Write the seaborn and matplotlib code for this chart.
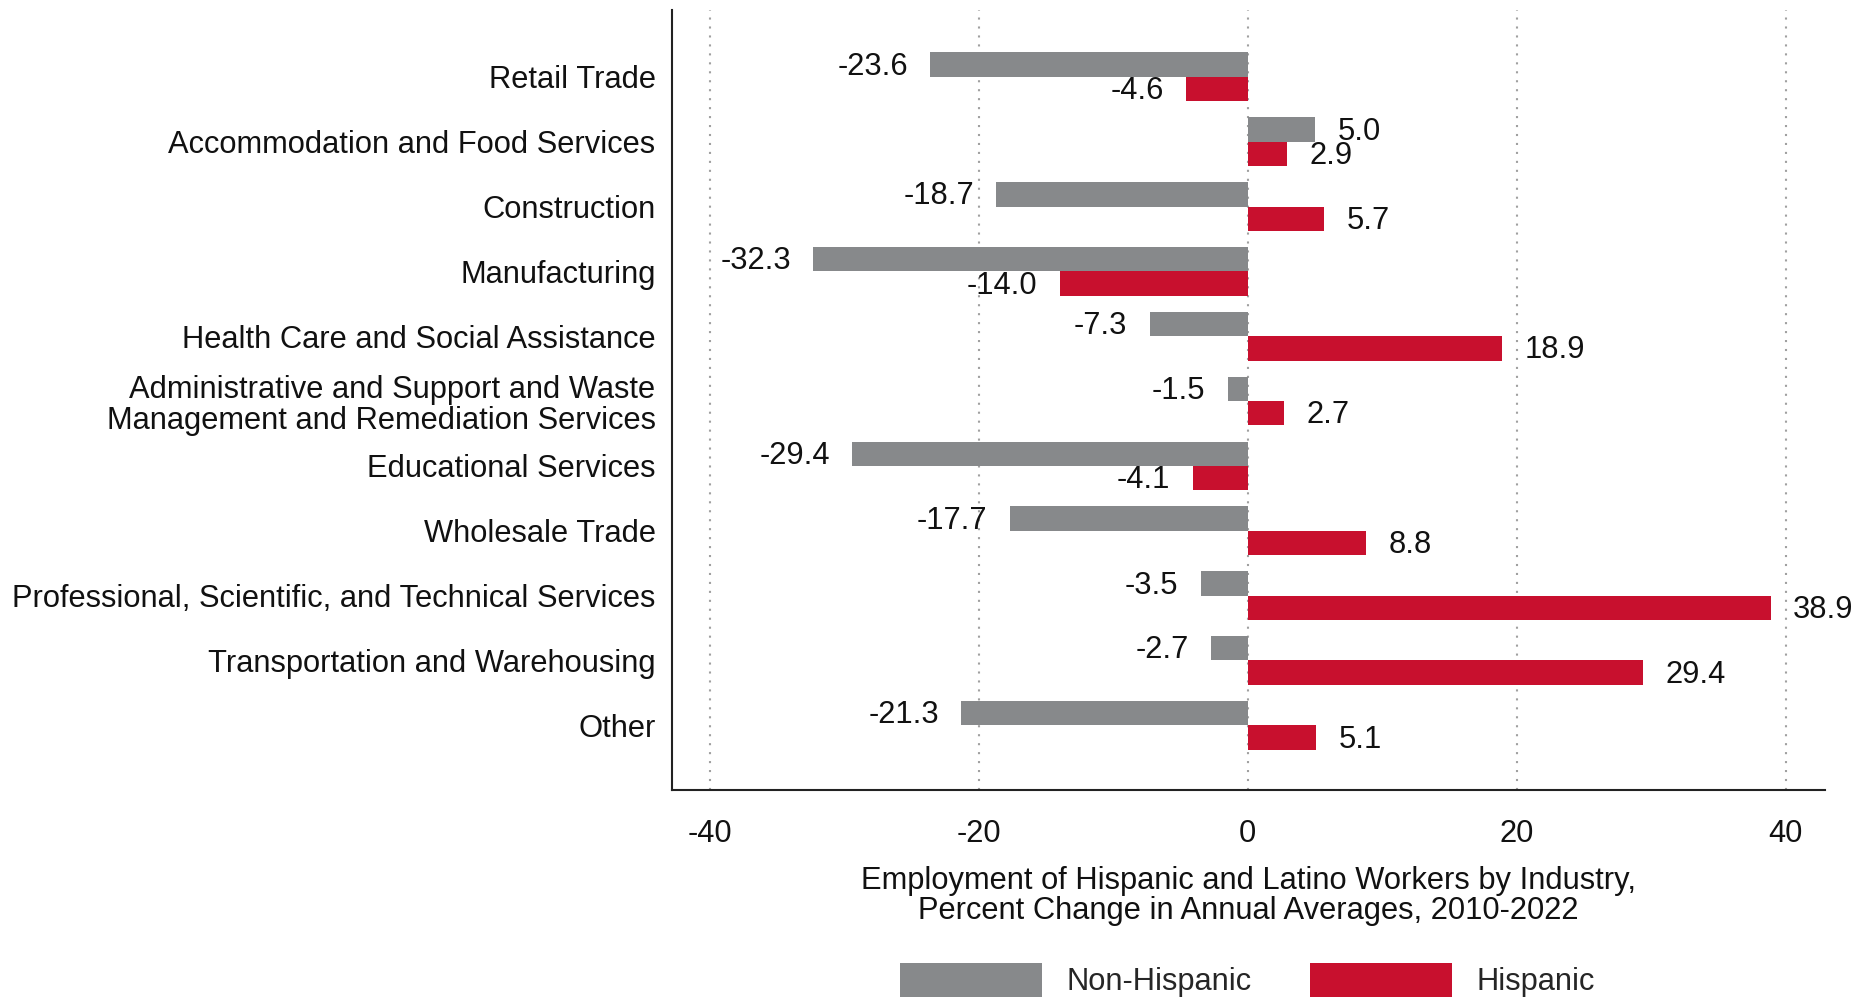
import matplotlib
matplotlib.use("Agg")
import matplotlib.pyplot as plt
from matplotlib.patches import Patch
import seaborn as sns
import pandas as pd

industries = [
    "Retail Trade",
    "Accommodation and Food Services",
    "Construction",
    "Manufacturing",
    "Health Care and Social Assistance",
    "Administrative and Support and Waste\nManagement and Remediation Services",
    "Educational Services",
    "Wholesale Trade",
    "Professional, Scientific, and Technical Services",
    "Transportation and Warehousing",
    "Other",
]
non_hispanic = [-23.6, 5.0, -18.7, -32.3, -7.3, -1.5, -29.4, -17.7, -3.5, -2.7, -21.3]
hispanic = [-4.6, 2.9, 5.7, -14.0, 18.9, 2.7, -4.1, 8.8, 38.9, 29.4, 5.1]
groups = ["Non-Hispanic", "Hispanic"]
colors = ["#87898B", "#C8102E"]
x_ticks = [-40, -20, 0, 20, 40]

df = pd.DataFrame({
    "industry": industries * 2,
    "group": ["Non-Hispanic"] * len(industries) + ["Hispanic"] * len(industries),
    "value": non_hispanic + hispanic,
})

sns.set_style("white")
plt.rcParams["font.family"] = ["Liberation Sans", "DejaVu Sans"]
plt.rcParams["axes.unicode_minus"] = False
fs = 22.2

fig = plt.figure(figsize=(18.62, 9.99), dpi=100)
ax = fig.add_axes([0.361, 0.209, 0.619, 0.781])

sns.barplot(data=df, x="value", y="industry", hue="group", order=industries,
            hue_order=groups, palette=colors, orient="h", width=0.75,
            saturation=1, linewidth=0, errorbar=None, legend=False, ax=ax, zorder=2)

for cont in ax.containers:
    lbls = ax.bar_label(cont, fmt="%.1f", padding=16, fontsize=fs, color="#111111")
    for l in lbls:
        # nudge labels down a touch
        ox, oy = l.xyann
        l.xyann = (ox, oy - 1.5)

ax.set_xlim(-42.8, 42.9)
ax.set_ylim(len(industries) - 0.0, -1.03)
ax.set_xticks(x_ticks)
ax.set_xticklabels([str(t) for t in x_ticks])
ax.grid(False)
for t in x_ticks:
    ax.axvline(t, color="#a0a0a0", lw=1.5, ls=(0, (1, 3.3)), zorder=0)

ax.tick_params(axis="x", length=11, width=1.5, pad=10, labelsize=fs, colors="#111111")
ax.tick_params(axis="y", length=0, pad=12, labelsize=fs, colors="#111111")
for lab in ax.get_yticklabels():
    lab.set_linespacing(1.05)

for s in ["top", "right"]:
    ax.spines[s].set_visible(False)
for s in ["left", "bottom"]:
    ax.spines[s].set_color("#222222")
    ax.spines[s].set_linewidth(1.5)

ax.set_ylabel("")
ax.set_xlabel("Employment of Hispanic and Latino Workers by Industry,\n"
              "Percent Change in Annual Averages, 2010-2022",
              fontsize=fs, labelpad=12, linespacing=1.0, color="#111111")

handles = [Patch(facecolor=c, edgecolor="none", label=g) for g, c in zip(groups, colors)]
fig.legend(handles=handles, loc="center", bbox_to_anchor=(0.670, 0.019), ncol=2,
           frameon=False, fontsize=fs, handlelength=4.6, handleheight=1.35,
           handletextpad=0.8, columnspacing=1.9)

fig.savefig("out.png", dpi=100)
